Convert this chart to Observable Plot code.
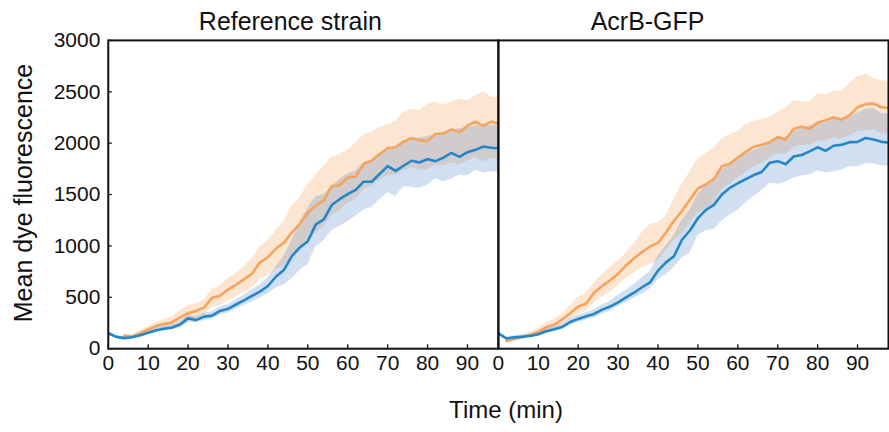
<!DOCTYPE html>
<html><head><meta charset="utf-8">
<script src="https://cdn.jsdelivr.net/npm/d3@7"></script>
<script src="https://cdn.jsdelivr.net/npm/@observablehq/plot@0.6"></script>
<style>
html,body{margin:0;padding:0;background:#fff;overflow:hidden;}
#wrap{position:relative;width:889px;height:432px;overflow:hidden;}
.lab{position:absolute;font-family:"Liberation Sans",Arial,sans-serif;color:#111;white-space:nowrap;text-align:center;}
#xlabel{left:306px;top:396px;width:400px;font-size:24px;line-height:28px;}
#ylabel{left:-177px;top:178px;width:400px;font-size:25px;line-height:30px;transform:rotate(-90deg);}
</style></head><body><div id="wrap"><div id="xlabel" class="lab">Time (min)</div><div id="ylabel" class="lab">Mean dye fluorescence</div></div>
<script>
const panels = ["Reference strain", "AcrB-GFP"];
const xTicks = [0, 10, 20, 30, 40, 50, 60, 70, 80, 90];
const yTicks = [0, 500, 1000, 1500, 2000, 2500, 3000];
const times = [0,2,4,6,8,10,12,14,16,18,20,22,24,26,28,30,32,34,36,38,40,42,44,46,48,50,52,54,56,58,60,62,64,66,68,70,72,74,76,78,80,82,84,86,88,90,92,94,96,98];

// Reference strain — blue series
const refBlueMean = [150,115,103,112,130,155,180,195,207,235,295,280,312,322,368,388,430,470,515,555,610,700,765,900,985,1045,1210,1259,1398,1455,1505,1545,1625,1625,1700,1777,1730,1780,1829,1812,1845,1825,1860,1905,1867,1912,1935,1968,1955,1950];
const refBlueLo = [130,100,90,100,115,135,158,172,182,205,255,250,275,285,325,345,385,420,455,490,535,590,620,680,760,820,990,1050,1150,1190,1236,1290,1350,1375,1450,1520,1480,1575,1570,1560,1590,1655,1625,1650,1690,1680,1740,1710,1722,1720];
const refBlueHi = [170,130,118,125,145,175,200,218,232,262,325,310,345,360,405,430,475,520,575,620,690,790,900,1050,1230,1370,1480,1500,1580,1650,1700,1730,1800,1830,1890,1930,1950,2000,2035,2050,2065,2090,2105,2125,2140,2150,2170,2180,2175,2175];
// Reference strain — orange series
const refOrangeMean = [null,null,125,118,150,188,220,240,258,305,345,368,400,495,515,575,622,675,730,840,890,975,1030,1130,1215,1320,1395,1440,1580,1590,1665,1675,1800,1830,1895,1950,1960,2015,2050,2030,2020,2090,2095,2135,2105,2170,2210,2170,2210,2185];
const refOrangeLo = [null,null,110,100,125,160,185,200,215,250,280,300,325,400,420,465,505,545,590,670,710,770,810,880,950,1040,1125,1180,1300,1340,1420,1450,1550,1580,1640,1680,1690,1730,1760,1740,1740,1790,1780,1810,1790,1830,1860,1820,1850,1840];
const refOrangeHi = [null,null,140,135,175,215,255,285,310,370,420,440,475,575,610,680,735,800,870,990,1050,1150,1240,1390,1470,1600,1690,1780,1860,1890,1930,2000,2080,2110,2150,2180,2210,2300,2330,2320,2380,2400,2370,2400,2430,2410,2460,2500,2450,2440];

// AcrB-GFP — blue series
const gfpBlueMean = [150,100,110,117,125,140,170,190,212,260,290,315,338,380,410,450,500,545,598,645,760,840,900,1060,1150,1270,1350,1400,1500,1565,1610,1650,1690,1720,1810,1825,1795,1870,1885,1920,1960,1925,1975,1985,2010,2013,2050,2035,2013,2005];
const gfpBlueLo = [130,85,95,102,110,125,150,168,188,230,255,280,300,335,365,410,450,490,535,580,670,720,790,880,930,1100,1150,1160,1240,1300,1345,1420,1480,1540,1610,1600,1620,1660,1680,1690,1730,1710,1720,1740,1770,1770,1800,1800,1780,1775];
const gfpBlueHi = [170,115,125,132,142,160,192,215,240,292,325,352,380,425,460,520,570,625,690,750,900,1000,1100,1250,1350,1500,1600,1660,1740,1800,1850,1890,1930,1960,2010,2050,2060,2110,2140,2170,2190,2200,2230,2240,2260,2290,2330,2340,2290,2280];
// AcrB-GFP — orange series
const gfpOrangeMean = [null,75,95,112,130,165,210,233,285,345,410,440,545,610,665,730,810,880,940,995,1030,1130,1245,1340,1450,1560,1600,1650,1775,1800,1860,1915,1965,1985,2010,2060,2036,2140,2160,2140,2200,2224,2250,2230,2270,2350,2380,2385,2350,2340];
const gfpOrangeLo = [null,60,80,95,108,135,175,195,235,285,335,360,445,500,550,610,680,740,790,820,850,960,1050,1120,1220,1320,1360,1420,1550,1600,1660,1720,1770,1800,1850,1900,1890,1960,1980,1980,2020,2020,2050,2040,2070,2110,2120,2130,2090,2080];
const gfpOrangeHi = [null,90,115,135,160,200,255,285,345,420,500,540,640,720,790,850,930,1020,1130,1210,1220,1290,1450,1600,1720,1850,1900,1950,2040,2080,2110,2180,2210,2230,2250,2300,2340,2410,2400,2400,2480,2470,2510,2500,2580,2650,2670,2630,2610,2600];

const seriesDefs = [
  {panel: panels[0], series: "blue", mean: refBlueMean, lo: refBlueLo, hi: refBlueHi},
  {panel: panels[0], series: "orange", mean: refOrangeMean, lo: refOrangeLo, hi: refOrangeHi},
  {panel: panels[1], series: "blue", mean: gfpBlueMean, lo: gfpBlueLo, hi: gfpBlueHi},
  {panel: panels[1], series: "orange", mean: gfpOrangeMean, lo: gfpOrangeLo, hi: gfpOrangeHi}
];
const rows = [];
for (const s of seriesDefs) {
  times.forEach((t, i) => rows.push({panel: s.panel, series: s.series, t, mean: s.mean[i], lo: s.lo[i], hi: s.hi[i]}));
}
const blue = rows.filter(d => d.series === "blue");
const orange = rows.filter(d => d.series === "orange");

const chart = Plot.plot({
  width: 891, height: 432,
  marginLeft: 108, marginRight: 1, marginTop: 40, marginBottom: 83,
  style: {fontFamily: "Liberation Sans, Arial, sans-serif", fontSize: "21px", color: "#111", background: "white", overflow: "visible"},
  fx: {domain: panels, padding: 0, axis: null},
  x: {domain: [0, 97.75]},
  y: {domain: [0, 3000]},
  marks: [
    Plot.areaY(orange, {fx: "panel", x: "t", y1: "lo", y2: "hi", fill: "#fde6d1", clip: true}),
    Plot.areaY(blue, {fx: "panel", x: "t", y1: "lo", y2: "hi", fill: "#437bc3", fillOpacity: 0.24, clip: true}),
    Plot.lineY(orange, {fx: "panel", x: "t", y: "mean", stroke: "#f6a35e", strokeWidth: 2.6, clip: true}),
    Plot.lineY(blue, {fx: "panel", x: "t", y: "mean", stroke: "#2386c7", strokeWidth: 2.6, clip: true}),
    Plot.axisX({ticks: xTicks, tickFormat: d => String(d), tickSize: -4, tickPadding: 10, label: null, strokeWidth: 1.3}),
    Plot.axisY({ticks: yTicks, tickFormat: d => String(d), tickSize: -4, tickPadding: 12, label: null, strokeWidth: 1.3}),
    Plot.frame({stroke: "#111", strokeWidth: 2}),
    Plot.text([{panel: panels[0]}], {fx: "panel", text: "panel", frameAnchor: "top", lineAnchor: "bottom", dy: -10, dx: -13, fontSize: 25, fill: "#111"}),
    Plot.text([{panel: panels[1]}], {fx: "panel", text: "panel", frameAnchor: "top", lineAnchor: "bottom", dy: -10, dx: -46, fontSize: 25, fill: "#111"})
  ]
});
document.getElementById("wrap").prepend(chart);
</script>
</body></html>
